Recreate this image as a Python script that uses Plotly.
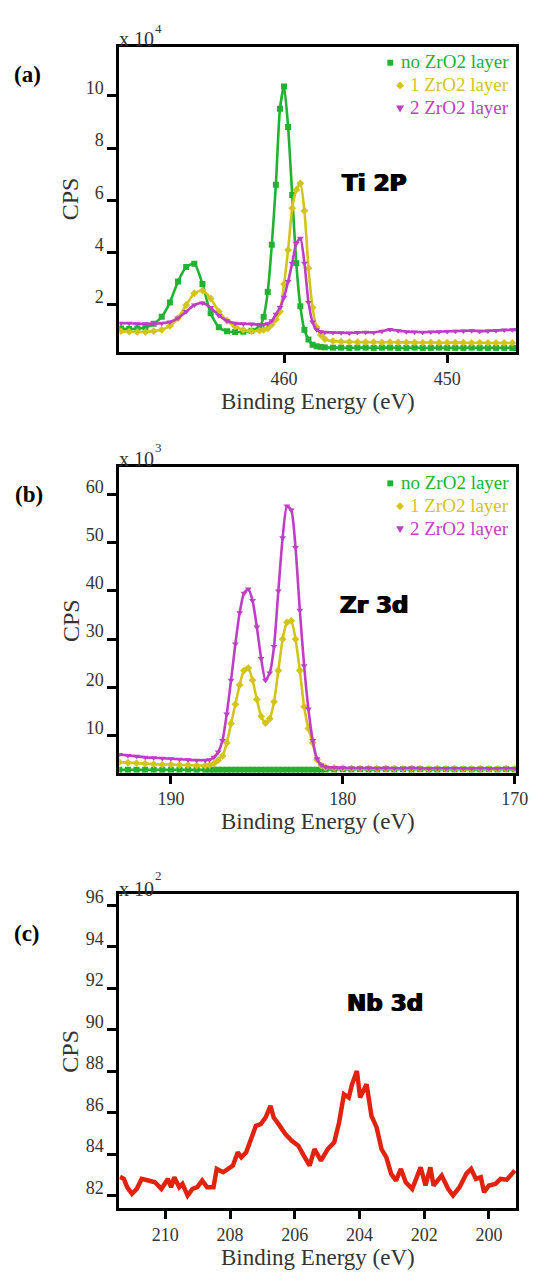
import plotly.graph_objects as go

# ---------------- data ----------------
# Panel (a): Ti 2p  (CPS in units of 1e4)
ti_energy = [470, 469.5, 469, 468.5, 468, 467.5, 467, 466.5, 466, 465.5, 465, 464.5, 464, 463.5, 463, 462.5, 462, 461.5,
             461.25, 461, 460.75, 460.5, 460.25, 460, 459.75, 459.5, 459.25, 459, 458.75, 458.5, 458.25, 458, 457.75,
             457.5, 457, 456.5, 456, 455.5, 455, 454.5, 454, 453.5, 453, 452.5, 452, 451.5, 451, 450.5, 450, 449.5,
             449, 448.5, 448, 447.5, 447, 446.5, 446, 445.75]
ti_no_layer = [1.10, 1.08, 1.10, 1.14, 1.28, 1.55, 2.10, 2.90, 3.45, 3.58, 2.80, 1.68, 1.15, 1.00, 0.97, 0.98, 1.02, 1.18,
               1.55, 2.50, 4.30, 6.60, 9.50, 10.35, 8.80, 6.20, 3.60, 1.95, 1.05, 0.68, 0.48, 0.42, 0.40,
               0.38, 0.37, 0.37, 0.36, 0.37, 0.37, 0.36, 0.37, 0.37, 0.36, 0.36, 0.37, 0.36, 0.36, 0.37, 0.36, 0.36,
               0.36, 0.37, 0.36, 0.36, 0.36, 0.36, 0.36, 0.36]
ti_one_layer = [1.00, 0.98, 0.97, 0.97, 1.00, 1.05, 1.20, 1.50, 2.00, 2.45, 2.55, 2.25, 1.75, 1.40, 1.18, 1.05, 1.00, 1.02,
                1.05, 1.10, 1.25, 1.45, 1.75, 2.80, 4.10, 5.70, 6.40, 6.65, 5.60, 3.40, 1.90, 1.15, 0.85,
                0.70, 0.62, 0.60, 0.59, 0.58, 0.58, 0.58, 0.57, 0.58, 0.57, 0.57, 0.57, 0.56, 0.57, 0.56, 0.56,
                0.56, 0.56, 0.55, 0.56, 0.55, 0.55, 0.55, 0.55]
ti_two_layer = [1.30, 1.30, 1.28, 1.28, 1.28, 1.30, 1.35, 1.50, 1.75, 2.00, 2.08, 1.90, 1.60, 1.40, 1.30, 1.28, 1.27, 1.25,
                1.25, 1.28, 1.40, 1.65, 1.90, 2.30, 2.90, 3.60, 4.35, 4.55, 3.60, 2.10, 1.35, 1.05, 0.98,
                0.96, 0.95, 0.94, 0.93, 0.95, 0.96, 0.95, 1.00, 1.06, 1.02, 0.98, 0.97, 0.96, 0.97, 0.98, 0.99,
                1.00, 1.01, 1.02, 1.00, 1.01, 1.03, 1.04, 1.05, 1.06]

# Panel (b): Zr 3d  (CPS in units of 1e3)
zr_energy = [193, 192.5, 192, 191.5, 191, 190.5, 190, 189.5, 189, 188.5,
             188, 187.75, 187.5, 187.25, 187, 186.75, 186.5, 186.25, 186, 185.75, 185.5, 185.25, 185, 184.75, 184.5,
             184.25, 184, 183.75, 183.5, 183.25, 183, 182.75, 182.5, 182.25, 182, 181.75, 181.5, 181.25, 181,
             180.5, 180, 179.5, 179, 178.5, 178, 177.5, 177, 176.5, 176, 175.5, 175, 174.5, 174, 173.5, 173, 172.5,
             172, 171.5, 171, 170.5, 170]
zr_no_layer = [2.9, 2.95, 2.9, 2.9, 2.95, 2.9, 2.9, 2.95, 2.9, 2.9,
               2.9, 2.95, 2.9, 2.9, 2.95, 2.9, 2.9, 2.95, 2.9, 2.9, 2.95, 2.9, 2.9, 2.95, 2.9, 2.9, 2.95, 2.9, 2.9,
               2.95, 2.9, 2.9, 2.95, 2.9, 2.9, 2.95, 2.9, 2.95, 3.0,
               3.0, 3.05, 3.0, 3.05, 3.0, 3.0, 3.05, 3.0, 3.05, 3.0, 3.05, 3.0, 3.0, 3.05, 3.0, 3.05, 3.0, 3.0, 3.05,
               3.0, 3.05, 3.0]
zr_one_layer = [4.5, 4.4, 4.3, 4.2, 4.1, 4.0, 4.0, 3.9, 3.9, 3.8,
                3.8, 3.9, 4.2, 4.9, 5.8, 8.5, 12.5, 16.5, 20.5, 23.5, 24.0, 21.5, 17.5, 14.0, 12.6, 13.5, 17.0, 23.5,
                30.0, 33.5, 33.8, 30.0, 23.5, 16.0, 11.5, 8.5, 5.0, 3.8, 3.4,
                3.3, 3.25, 3.2, 3.2, 3.2, 3.15, 3.2, 3.15, 3.15, 3.2, 3.15, 3.1, 3.15, 3.1, 3.15, 3.1, 3.1, 3.15, 3.1,
                3.1, 3.15, 3.1]
zr_two_layer = [6.1, 5.9, 5.7, 5.5, 5.4, 5.3, 5.2, 5.1, 5.0, 4.9,
                4.9, 5.0, 5.5, 6.6, 9.0, 14.5, 21.5, 29.0, 35.5, 39.5, 40.4, 38.0, 32.5, 26.0, 21.5, 23.0, 28.5, 40.0,
                51.0, 57.6, 56.8, 49.0, 36.0, 24.5, 15.5, 9.0, 5.2, 3.9, 3.5,
                3.4, 3.35, 3.3, 3.3, 3.3, 3.25, 3.3, 3.25, 3.25, 3.3, 3.25, 3.2, 3.25, 3.2, 3.25, 3.2, 3.2, 3.25, 3.2,
                3.2, 3.25, 3.2]

# Panel (c): Nb 3d  (CPS in units of 1e2)
nb_energy = [211.40, 211.28, 211.18, 211.03, 210.88, 210.73, 210.52, 210.32, 210.12, 209.92, 209.82, 209.72, 209.57,
             209.47, 209.31, 209.16, 209.01, 208.86, 208.71, 208.51, 208.41, 208.21, 208.06, 207.91, 207.76, 207.65,
             207.50, 207.35, 207.20, 207.05, 206.90, 206.75, 206.65, 206.50, 206.29, 206.09, 205.89, 205.72, 205.54,
             205.39, 205.19, 204.98, 204.78, 204.63, 204.48, 204.33, 204.23, 204.08, 203.98, 203.78, 203.63, 203.47,
             203.32, 203.17, 203.02, 202.87, 202.72, 202.57, 202.37, 202.11, 201.96, 201.81, 201.71, 201.46, 201.26,
             201.11, 200.91, 200.70, 200.55, 200.40, 200.25, 200.15, 200.00, 199.80, 199.64, 199.45, 199.20]
nb_cps = [82.90, 82.80, 82.40, 82.08, 82.32, 82.80, 82.72, 82.64, 82.32, 82.80, 82.40, 82.88, 82.40,
          82.56, 82.00, 82.32, 82.40, 82.72, 82.40, 82.40, 83.28, 83.12, 83.28, 83.44, 84.08, 83.84,
          84.08, 84.80, 85.36, 85.44, 85.76, 86.32, 85.76, 85.44, 84.96, 84.64, 84.40, 83.92, 83.44,
          84.24, 83.68, 84.24, 84.56, 85.52, 86.88, 86.72, 87.36, 88.00, 86.72, 87.36, 85.84, 85.28,
          84.24, 83.84, 83.04, 82.72, 83.28, 82.64, 82.32, 83.36, 82.48, 83.36, 82.48, 82.96, 82.32,
          82.00, 82.40, 83.04, 83.28, 82.80, 82.88, 82.16, 82.48, 82.56, 82.80, 82.76, 83.20]

series_names = ["no ZrO2 layer", "1 ZrO2 layer", "2 ZrO2 layer"]
series_colors = ["#22b232", "#d2c41c", "#be3ec6"]
series_symbols = ["square", "diamond", "triangle-down"]
nb_color = "#e0220f"

ti_ticks_x = [460, 450]
ti_ticks_y = [2, 4, 6, 8, 10]
zr_ticks_x = [190, 180, 170]
zr_ticks_y = [10, 20, 30, 40, 50, 60]
nb_ticks_x = [210, 208, 206, 204, 202, 200]
nb_ticks_y = [82, 84, 86, 88, 90, 92, 94, 96]
exponents = ["4", "3", "2"]

x_title = "Binding Energy (eV)"
y_title = "CPS"

# ---------------- layout helpers ----------------
W, H = 548, 1272
def px(x):
    return x / W
def py(y):
    return 1 - y / H

SERIF = "Liberation Serif"

fig = go.Figure()

ti_series = [ti_no_layer, ti_one_layer, ti_two_layer]
zr_series = [zr_no_layer, zr_one_layer, zr_two_layer]
for i in range(3):
    fig.add_trace(go.Scatter(x=ti_energy, y=ti_series[i], mode="lines+markers", name=series_names[i],
                             line=dict(color=series_colors[i], width=2.6, shape="spline", smoothing=0.6),
                             marker=dict(symbol=series_symbols[i], size=6, color=series_colors[i]),
                             xaxis="x", yaxis="y", showlegend=False))
for i in range(3):
    fig.add_trace(go.Scatter(x=zr_energy, y=zr_series[i], mode="lines+markers", name=series_names[i],
                             line=dict(color=series_colors[i], width=2.6, shape="spline", smoothing=0.6),
                             marker=dict(symbol=series_symbols[i], size=6, color=series_colors[i]),
                             xaxis="x2", yaxis="y2", showlegend=False))
fig.add_trace(go.Scatter(x=nb_energy, y=nb_cps, mode="lines", name="Nb 3d",
                         line=dict(color=nb_color, width=4.5),
                         xaxis="x3", yaxis="y3", showlegend=False))

tickfont = dict(family=SERIF, size=18, color="#333333")
def xax(rng, tickvals, anchor, standoff=4):
    return dict(range=rng, domain=[px(122), px(528)], anchor=anchor, tickvals=tickvals,
                showline=True, linewidth=3, linecolor="black", mirror=True,
                ticks="outside", ticklen=8, tickwidth=2.5, tickcolor="black",
                showgrid=False, zeroline=False, tickfont=tickfont,
                title=dict(text=x_title, standoff=standoff,
                           font=dict(family=SERIF, size=23, color="#333333")))
def yax(rng, tickvals, dom, anchor):
    return dict(range=rng, domain=dom, anchor=anchor, tickvals=tickvals,
                showline=True, linewidth=3, linecolor="black", mirror=True,
                ticks="outside", ticklen=9, tickwidth=2.5, tickcolor="black",
                showgrid=False, zeroline=False, tickfont=tickfont, ticklabelshift=-8)

dom_a = [py(347), py(40)]
dom_b = [py(770), py(463)]
dom_c = [py(1208), py(892)]

fig.update_layout(
    width=W, height=H,
    margin=dict(l=0, r=0, t=0, b=0),
    paper_bgcolor="white", plot_bgcolor="white",
    xaxis=xax([470.1, 445.75], ti_ticks_x, "y"),
    yaxis=yax([0.2, 11.87], ti_ticks_y, dom_a, "x"),
    xaxis2=xax([193.0, 169.9], zr_ticks_x, "y2"),
    yaxis2=yax([2.3, 65.6], zr_ticks_y, dom_b, "x2"),
    xaxis3=xax([211.42, 199.15], nb_ticks_x, "y3", standoff=2),
    yaxis3=yax([81.38, 96.53], nb_ticks_y, dom_c, "x3"),
)

ann = []
def add_text(text, x, y, size, family=SERIF, color="black", weight="normal", xanchor="center",
             yanchor="middle", angle=0, align="center", shadow="none"):
    ann.append(dict(text=text, x=px(x), y=py(y), xref="paper", yref="paper", showarrow=False,
                    xanchor=xanchor, yanchor=yanchor, textangle=angle, align=align,
                    font=dict(family=family, size=size, color=color, weight=weight, shadow=shadow)))

# panel labels
add_text("(a)", 28, 68, 23, weight="bold")
add_text("(b)", 30, 490, 23, weight="bold")
add_text("(c)", 28, 932, 23, weight="bold")
# y-axis titles
for cy in (193, 617, 1050):
    add_text(y_title, 72, cy, 24, color="#333333", angle=-90)
# multiplier labels: "x 10" with a raised exponent
for (base_y, exp_y, e) in ((32, 22, exponents[0]), (455, 443, exponents[1]), (887, 873, exponents[2])):
    add_text("x 10", 120, base_y, 20, color="#333333", xanchor="left")
    add_text(e, 162, exp_y, 13, color="#333333")
# element labels (heavy sans)
HEAVY = "DejaVu Sans"
heavy_shadow = "0.8px 0 0 black, -0.8px 0 0 black"
add_text("Ti 2P", 382, 177, 23, family=HEAVY, weight="bold", shadow=heavy_shadow)
add_text("Zr 3d", 383, 601, 23, family=HEAVY, weight="bold", shadow=heavy_shadow)
add_text("Nb 3d", 394, 1002, 23, family=HEAVY, weight="bold", shadow=heavy_shadow)

# legends: right-aligned coloured text plus marker shapes
shapes = []
glyph_x = [399, 409, 409]
def marker_shape(kind, cx, cy, color):
    if kind == "square":
        return dict(type="rect", xref="paper", yref="paper", x0=px(cx - 3), x1=px(cx + 3),
                    y0=py(cy + 3), y1=py(cy - 3), fillcolor=color, line=dict(width=0))
    if kind == "diamond":
        path = "M {} {} L {} {} L {} {} L {} {} Z".format(px(cx), py(cy - 4), px(cx + 4), py(cy),
                                                       px(cx), py(cy + 4), px(cx - 4), py(cy))
    else:
        path = "M {} {} L {} {} L {} {} Z".format(px(cx - 4), py(cy - 3), px(cx + 4), py(cy - 3),
                                               px(cx), py(cy + 4))
    return dict(type="path", xref="paper", yref="paper", path=path, fillcolor=color, line=dict(width=0))

for ys in ((55, 78, 101), (478, 501, 524)):
    for i in range(3):
        add_text(series_names[i], 522, ys[i], 19, color=series_colors[i], xanchor="right", align="right")
        shapes.append(marker_shape(series_symbols[i], glyph_x[i], ys[i] + 1, series_colors[i]))

fig.update_layout(annotations=ann, shapes=shapes)
# remove the default page margin so the 548x1272 figure fills the window exactly
fig.write_html("out.html",
               config={"displayModeBar": False},
               post_script="document.body.style.margin='0px';document.body.style.padding='0px';"
                           "document.body.style.overflow='hidden';")
